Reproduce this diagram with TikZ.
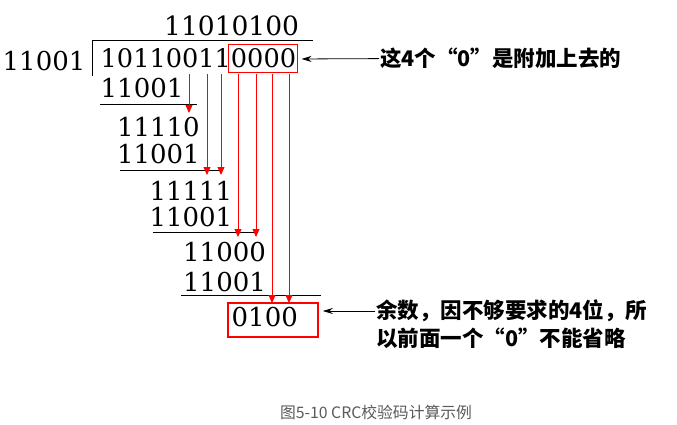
\documentclass[tikz,border=0pt]{standalone}
\usepackage{fontspec}
\usepackage{tikz}
\usetikzlibrary{calc,arrows,arrows.meta,positioning}
\newfontfamily\bitfont{DejaVu Serif}
\newfontfamily\cjk{Noto Sans CJK SC}
\tikzset{
   bits/.style={anchor=base west, inner sep=0pt, font=\fontsize{26}{30}\bitfont},
   rule/.style={draw=black, line width=1pt},
   note/.style={anchor=west, inner sep=1pt, font=\fontsize{21.5}{26}\cjk\bfseries}
}
\begin{document}
\begin{tikzpicture}[x=1pt,y=-1pt,
                    redarrow/.style={draw=red, line width=0.8pt, -{Triangle[length=8pt,width=7pt]}},
                    notearrow/.style={draw=black, line width=0.8pt, -{Stealth[length=10pt,width=6pt]}, shorten >=4pt},
                    caption/.style={inner sep=0pt, text={rgb,255:red,90;green,90;blue,90},
                                    font=\fontsize{15.8}{18}\cjk}]
\useasboundingbox (0,0) rectangle (677,425);
%
\node[bits, font=\fontsize{26.5}{30}\bitfont] (quot) at (164, 36) {11010100};
\node[bits] (divisor) at (2.5, 71) {11001};
\node[bits, font=\fontsize{25.6}{28}\bitfont] (dividend) at (100.5, 68) {101100110000};
\node[bits] (sub1) at (100.5, 98)  {11001};
\node[bits] (rest1) at (116.8, 137) {11110};
\node[bits] (sub2) at (116.8, 163) {11001};
\node[bits] (rest2) at (149.4, 200) {11111};
\node[bits] (sub3) at (149.4, 226) {11001};
\node[bits] (rest3) at (183, 261) {11000};
\node[bits] (sub4) at (183, 291) {11001};
\node[bits] (rem) at (231.5, 326) {0100};
%
\node[draw=red, line width=1pt, minimum width=69pt, minimum height=28pt, inner sep=0pt] (zeros) at (262.5, 59) {};
\node[draw=red, line width=1.6pt, minimum width=90pt, minimum height=34pt, inner sep=0pt] (rembox) at (273, 320) {};
%
\draw[rule] (313, 41) -- (92, 41) -- (92, 76);
\draw[rule] (100, 105) -- (197, 105);
\draw[rule] (120, 170) -- (222, 170);
\draw[rule] (153, 232) -- (258, 232);
\draw[rule] (181, 295) -- (321, 295);
%
\foreach \c/\t in {189/113, 207/175, 221/175, 238/237, 256/237, 272/303, 289/303}
  \draw[redarrow] (\c, 74) -- (\c, \t);
%
\node[note] (note1) at (379, 58) {这4个“0”是附加上去的};
\node[note] (note2a) at (375, 311) {余数，因不够要求的4位，所};
\node[note] (note2b) at (375, 338.5) {以前面一个“0”不能省略};
\draw[notearrow] (note1) -- (zeros.east);
\draw[notearrow] (note2a.west) -- (note2a.west -| rembox.east);
%
\node[caption] (cap) at (376, 412) {图5-10 CRC校验码计算示例};
\end{tikzpicture}
\end{document}
